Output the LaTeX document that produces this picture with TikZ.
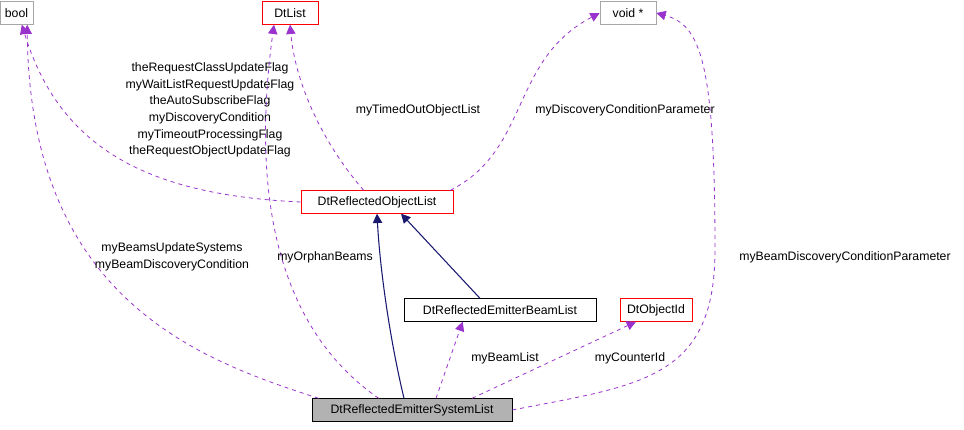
\documentclass[tikz,border=0pt]{standalone}
\usepackage{fontspec}
\setmainfont{Liberation Sans}
\usetikzlibrary{arrows.meta}
\definecolor{purp}{HTML}{9A32CD}
\definecolor{navy}{HTML}{191970}
\begin{document}
\begin{tikzpicture}[x=0.75pt,y=-0.75pt,
 every node/.style={font=\fontsize{9.2}{12.5}\selectfont},
 box/.style={draw,minimum height=17pt,inner sep=3pt,line width=0.5pt},
 dep/.style={draw=purp,dashed,-{Triangle[length=7pt,width=7pt]},fill=none,line width=0.6pt},
 inh/.style={draw=navy,-{Triangle[length=7pt,width=7pt]},line width=0.8pt},
 lab/.style={align=center,inner sep=0pt}]
\useasboundingbox (0,0) rectangle (964,429);
\node[box,draw=gray!70,minimum width=33*0.75pt] (bool) at (16.5,13) {bool};
\node[box,draw=red,minimum width=56*0.75pt] (dtlist) at (290,13) {DtList};
\node[box,draw=gray!70,minimum width=56*0.75pt] (void) at (628,13) {void *};
\node[box,draw=red,minimum width=152*0.75pt] (rol) at (377,202) {DtReflectedObjectList};
\node[box,draw=black,minimum width=192*0.75pt] (ebl) at (500,310) {DtReflectedEmitterBeamList};
\node[box,draw=red,minimum width=72*0.75pt] (oid) at (656,310) {DtObjectId};
\node[box,draw=black,fill=gray!60,minimum width=200*0.75pt] (sys) at (412,410) {DtReflectedEmitterSystemList};

\draw[dep] (rol.west) .. controls (150,195) and (60,150) .. ([xshift=4]bool.south);
\node[lab] at (210,110) {theRequestClassUpdateFlag\\myWaitListRequestUpdateFlag\\theAutoSubscribeFlag\\myDiscoveryCondition\\myTimeoutProcessingFlag\\theRequestObjectUpdateFlag};
\draw[dep] ([xshift=-10]rol.north) .. controls (320,140) and (295,80) .. (dtlist.south);
\node[lab] at (418,110) {myTimedOutObjectList};
\draw[dep] ([xshift=55]rol.north) .. controls (530,150) and (510,60) .. (void.west);
\node[lab] at (625,110) {myDiscoveryConditionParameter};
\draw[dep] ([xshift=-70]sys.north) .. controls (200,360) and (30,300) .. ([xshift=8]bool.south);
\node[lab] at (172,257) {myBeamsUpdateSystems\\myBeamDiscoveryCondition};
\draw[dep] ([xshift=-25]sys.north) .. controls (280,330) and (250,200) .. ([xshift=-12]dtlist.south);
\node[lab] at (325,257) {myOrphanBeams};
\draw[inh] ([xshift=-6]sys.north) .. controls (390,340) and (380,270) .. (rol.south);
\draw[inh] ([xshift=-15]ebl.north) -- ([xshift=18]rol.south);
\draw[dep] ([xshift=18]sys.north) -- ([xshift=-28]ebl.south);
\node[lab] at (505,358) {myBeamList};
\draw[dep] ([xshift=45]sys.north) -- ([xshift=-15]oid.south);
\node[lab] at (630,358) {myCounterId};
\draw[dep] (sys.east) .. controls (640,385) and (715,380) .. (715,250) .. controls (715,60) and (700,25) .. (void.east);
\node[lab] at (845,257) {myBeamDiscoveryConditionParameter};
\end{tikzpicture}
\end{document}
